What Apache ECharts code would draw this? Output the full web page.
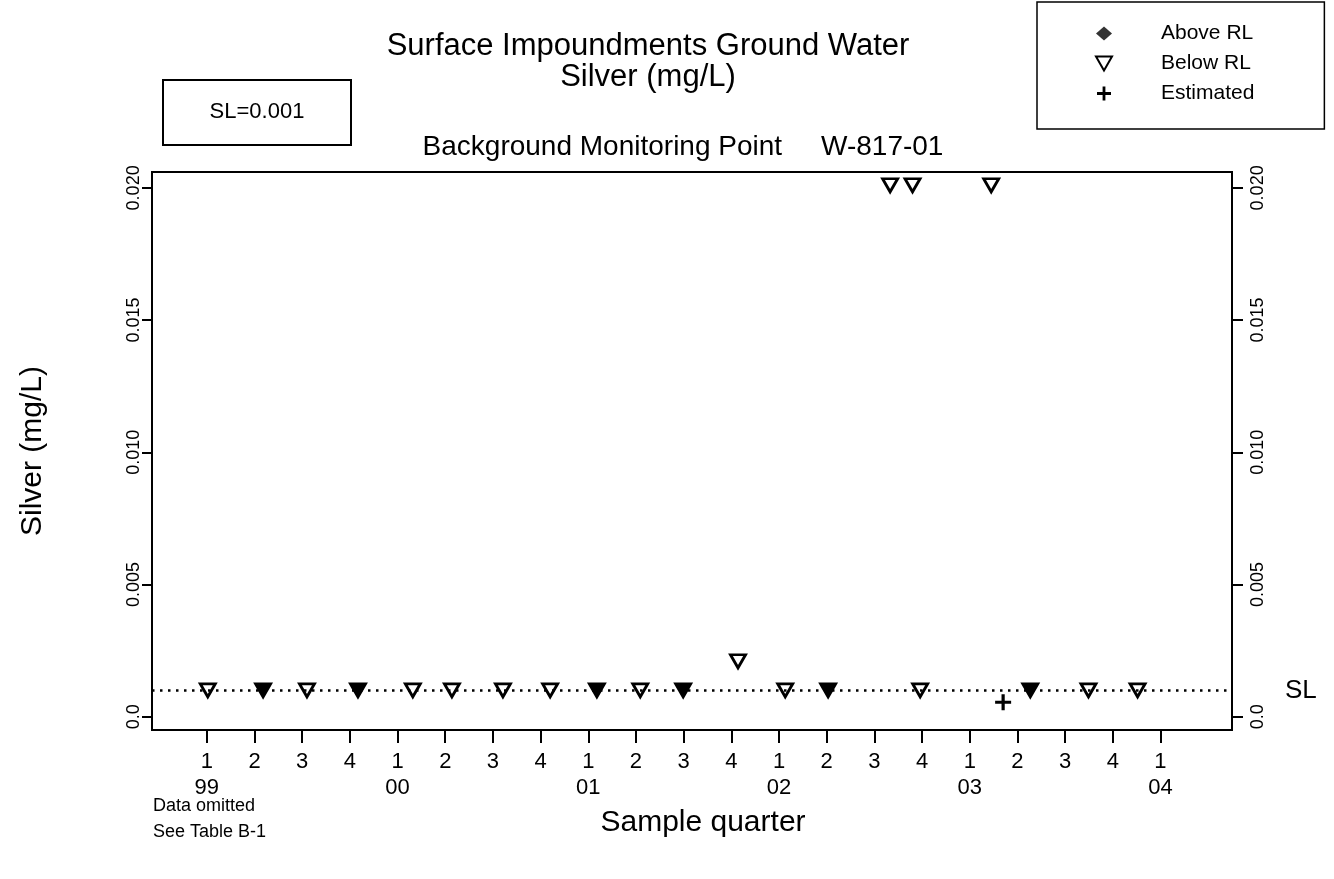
<!DOCTYPE html>
<html>
<head>
<meta charset="utf-8">
<title>Silver (mg/L) - W-817-01</title>
<script src="https://cdn.jsdelivr.net/npm/echarts@6.0.0/dist/echarts.min.js"></script>
<style>
    html, body { margin: 0; padding: 0; background: #fff; }
    #echarts { width: 1334px; height: 879px; }
</style>
</head>
<body>
<div id="echarts"></div>
<script>
// quarter index 0 = 1999 Q1
var quarterNames = ['1', '2', '3', '4'],
    yearNames = ['99', '00', '01', '02', '03', '04'],
    quarterTicks = [0, 1, 2, 3, 4, 5, 6, 7, 8, 9, 10, 11, 12, 13, 14, 15, 16, 17, 18, 19, 20],
    yTicks = [0, 0.005, 0.010, 0.015, 0.020];

var slValue = 0.001;

// below RL, open triangles
var belowX = [0.02, 2.10, 4.32, 5.14, 6.21, 7.20, 9.09, 11.14, 12.13, 14.33, 14.80, 14.96, 16.45, 18.49, 19.52],
    belowY = [0.001, 0.001, 0.001, 0.001, 0.001, 0.001, 0.001, 0.0021, 0.001, 0.0201, 0.0201, 0.001, 0.0201, 0.001, 0.001];
// below RL, overlapped (dark) triangles
var belowDarkX = [1.18, 3.17, 8.18, 9.99, 13.03, 17.27],
    belowDarkY = [0.001, 0.001, 0.001, 0.001, 0.001, 0.001];
// estimated
var estX = [16.70],
    estY = [0.00055];
// above RL: none
var aboveX = [],
    aboveY = [];

function pairs(xs, ys) {
    return xs.map(function (x, i) { return [x, ys[i]]; });
}

var triPath = 'path://M0,0L10,0L5,8.7Z',
    plusPath = 'path://M4,0H6V4H10V6H6V10H4V6H0V4H4Z';
var font = 'Liberation Sans, Arial, Helvetica, sans-serif';

var myChart = echarts.init(document.getElementById('echarts'), null, { renderer: 'canvas' });

function yLabel(v) {
    return v === 0 ? '0.0' : v.toFixed(3);
}

var option = {
    backgroundColor: '#fff',
    animation: false,
    textStyle: { fontFamily: font, color: '#000' },
    grid: {
        left: 152, right: 102, top: 172, bottom: 149,
        show: true, borderColor: '#000', borderWidth: 2
    },
    legend: {
        orient: 'vertical',
        left: 1037, top: 2,
        padding: [21, 70, 25, 58],
        borderColor: '#000', borderWidth: 1.5,
        itemWidth: 16, itemHeight: 14, itemGap: 9,
        selectedMode: false,
        textStyle: { fontFamily: font, fontSize: 21, lineHeight: 20, color: '#000', padding: [0, 0, 0, 44] },
        data: [
            { name: 'Above RL', icon: 'diamond' },
            { name: 'Below RL', icon: triPath },
            { name: 'Estimated', icon: plusPath }
        ]
    },
    xAxis: {
        type: 'value',
        min: -1.15, max: 21.5,
        name: 'Sample quarter',
        nameLocation: 'middle',
        nameGap: 78,
        nameTextStyle: { fontSize: 30, color: '#000', padding: [0, 0, 0, 22] },
        axisLine: { onZero: false, lineStyle: { color: '#000', width: 2 } },
        axisTick: { customValues: quarterTicks, length: 13, lineStyle: { color: '#000', width: 2 } },
        axisLabel: {
            customValues: quarterTicks,
            fontSize: 22, lineHeight: 26, margin: 19, color: '#000',
            formatter: function (v) {
                var q = v % 4;
                return q === 0 ? quarterNames[q] + '\n' + yearNames[v / 4] : quarterNames[q];
            }
        },
        splitLine: { show: false }
    },
    yAxis: [{
        type: 'value',
        min: -0.0005, max: 0.0206,
        name: 'Silver (mg/L)',
        nameLocation: 'middle',
        nameGap: 104,
        nameTextStyle: { fontSize: 30, color: '#000' },
        axisLine: { show: true, onZero: false, lineStyle: { color: '#000', width: 2 } },
        axisTick: { show: true, customValues: yTicks, length: 10, lineStyle: { color: '#000', width: 2 } },
        axisLabel: { customValues: yTicks, rotate: 90, fontSize: 18, margin: 9, color: '#000', formatter: yLabel },
        splitLine: { show: false }
    }, {
        type: 'value',
        position: 'right',
        min: -0.0005, max: 0.0206,
        axisLine: { show: true, onZero: false, lineStyle: { color: '#000', width: 2 } },
        axisTick: { show: true, customValues: yTicks, length: 11, lineStyle: { color: '#000', width: 2 } },
        axisLabel: { customValues: yTicks, rotate: 90, fontSize: 18, margin: 17, color: '#000', formatter: yLabel },
        splitLine: { show: false }
    }],
    series: [{
        name: 'Above RL',
        type: 'scatter',
        symbol: 'diamond',
        symbolSize: 13,
        itemStyle: { color: '#000' },
        data: pairs(aboveX, aboveY)
    }, {
        name: 'Below RL',
        type: 'scatter',
        symbol: triPath,
        symbolSize: [15, 13],
        itemStyle: { color: '#fff', borderColor: '#000', borderWidth: 2.8, opacity: 1 },
        data: pairs(belowX, belowY),
        markLine: {
            silent: true,
            symbol: 'none',
            precision: 5,
            lineStyle: { color: '#000', type: [2.5, 5.5], width: 2.5 },
            label: { position: 'end', formatter: 'SL', fontSize: 26, color: '#000', distance: 53 },
            data: [{ yAxis: slValue }]
        }
    }, {
        name: 'Below RL',
        type: 'scatter',
        symbol: triPath,
        symbolSize: [15, 13],
        itemStyle: { color: '#000', borderColor: '#000', borderWidth: 2.8, opacity: 1 },
        data: pairs(belowDarkX, belowDarkY)
    }, {
        name: 'Estimated',
        type: 'scatter',
        symbol: plusPath,
        symbolSize: 16,
        itemStyle: { color: '#000', opacity: 1 },
        data: pairs(estX, estY)
    }],
    graphic: [
        { type: 'text', x: 648, y: 46, style: { text: 'Surface Impoundments Ground Water', font: '31px ' + font, fill: '#000', textAlign: 'center', textVerticalAlign: 'middle' } },
        { type: 'text', x: 648, y: 77, style: { text: 'Silver (mg/L)', font: '31px ' + font, fill: '#000', textAlign: 'center', textVerticalAlign: 'middle' } },
        { type: 'text', x: 683, y: 147, style: { text: 'Background Monitoring Point     W-817-01', font: '28px ' + font, fill: '#000', textAlign: 'center', textVerticalAlign: 'middle' } },
        { type: 'rect', shape: { x: 163, y: 80, width: 188, height: 65 }, style: { fill: 'none', stroke: '#000', lineWidth: 2 } },
        { type: 'text', x: 257, y: 112, style: { text: 'SL=0.001', font: '22px ' + font, fill: '#000', textAlign: 'center', textVerticalAlign: 'middle' } },
        { type: 'text', x: 153, y: 806, style: { text: 'Data omitted', font: '18px ' + font, fill: '#000', textAlign: 'left', textVerticalAlign: 'middle' } },
        { type: 'text', x: 153, y: 832, style: { text: 'See Table B-1', font: '18px ' + font, fill: '#000', textAlign: 'left', textVerticalAlign: 'middle' } }
    ]
};

myChart.setOption(option);
</script>
</body>
</html>
